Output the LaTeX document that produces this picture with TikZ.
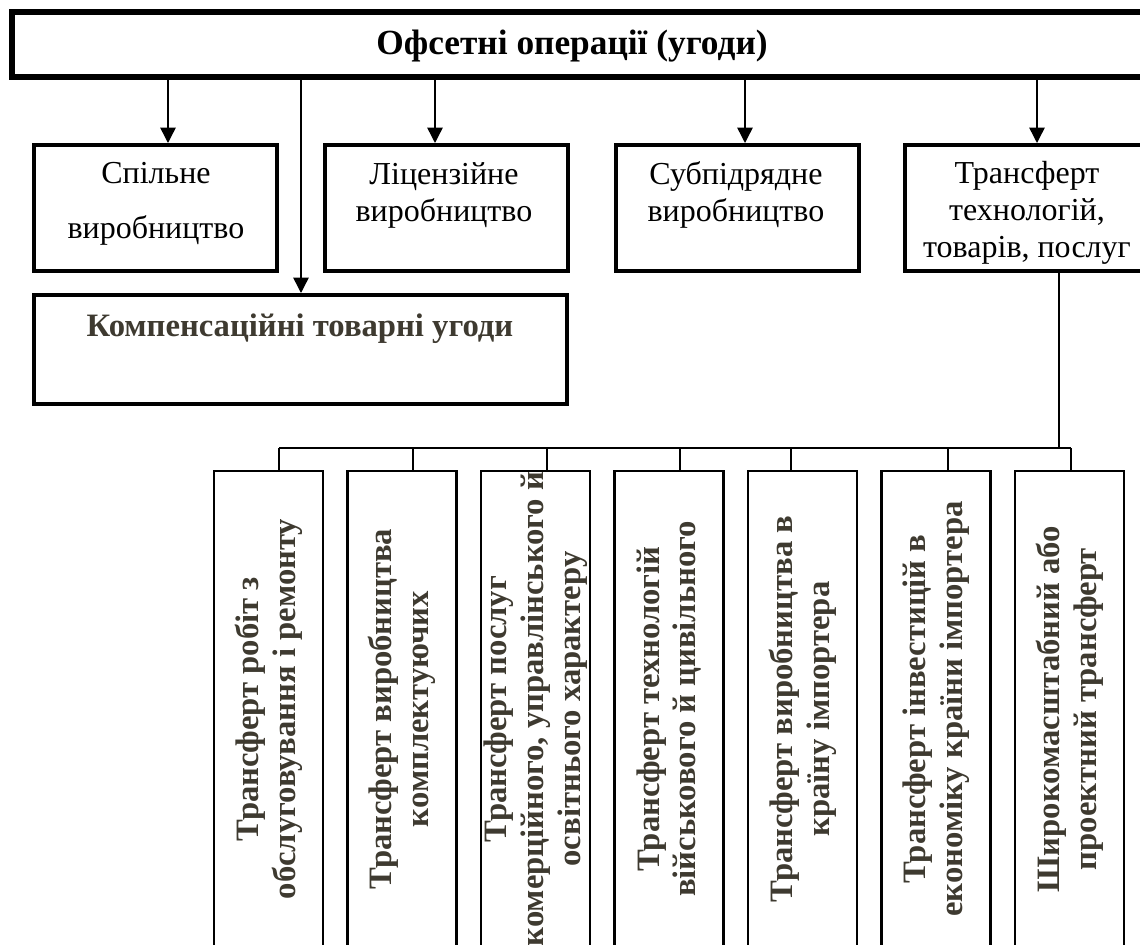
\documentclass[tikz,border=0pt]{standalone}
\usepackage{fontspec}
\setmainfont{Liberation Serif}
\usepackage{tikz}
\usetikzlibrary{positioning,calc,arrows.meta}

\definecolor{txtgray}{RGB}{62,58,48}

\tikzset{
  bar/.style={draw, line width=4.5pt, inner sep=0pt, minimum width=861pt, minimum height=48.75pt},
  box/.style={draw, line width=3pt, inner sep=0pt, minimum width=182.25pt, minimum height=94.5pt},
  vbox/.style={draw, line width=2.2pt, inner sep=0pt, rotate=90, align=center,
    minimum width=357pt, minimum height=81.75pt, text=txtgray,
    font=\fontsize{24.5}{27.75}\selectfont\bfseries},
  toptext/.style={align=center, inner sep=0pt, font=\fontsize{24}{27.75}\selectfont},
  link/.style={line width=1.1pt},
  arr/.style={link, -{Triangle[length=11.5pt,width=11.5pt]}}
}

\begin{document}
\begin{tikzpicture}[x=0.75pt,y=-0.75pt]
\useasboundingbox (0,0) rectangle (1140,945);

% main bar
\node[bar] (offset) at (586,44.5) {};
\node[inner sep=0pt, font=\fontsize{26.5}{30}\selectfont\bfseries] (title) at (572,46) {Офсетні операції (угоди)};

% second level
\node[box] (spil) at (155.5,208) {};
\node[box] (lic) at (446,208) {};
\node[box] (sub) at (737,208) {};
\node[box, minimum width=191.25pt] (tran) at (1032.5,208) {};
\node[box, minimum width=399.75pt, minimum height=81.75pt] (komp) at (300.5,349.5) {};

\node[toptext, font=\fontsize{24}{41}\selectfont] (spil-t) at (156,204) {Спільне\\виробництво};
\node[toptext] (lic-t) at (444,195) {Ліцензійне\\виробництво};
\node[toptext] (sub-t) at (736,195) {Субпідрядне\\виробництво};
\node[toptext] (tran-t) at (1027,213) {Трансферт\\технологій,\\товарів, послуг};
\node[toptext, text=txtgray, font=\fontsize{24.5}{27.75}\selectfont\bfseries] (komp-t) at (300,329) {Компенсаційні товарні угоди};

% arrows from the bar
\coordinate (a0) at (301,0);
\coordinate (a1) at (168,0);
\coordinate (a2) at (435,0);
\coordinate (a3) at (745,0);
\coordinate (a4) at (1037,0);
\draw[arr] (offset.south -| a1) -- (spil.north -| a1);
\draw[arr] (offset.south -| a2) -- (lic.north -| a2);
\draw[arr] (offset.south -| a3) -- (sub.north -| a3);
\draw[arr] (offset.south -| a4) -- (tran.north -| a4);
\draw[arr] (offset.south -| a0) -- (komp.north -| a0);

% transfer types
\coordinate (hub) at (1059,448);
\foreach \i/\t in {1/279,2/413,3/547,4/680,5/791,6/948,7/1071}
  \coordinate (t\i) at (\t,448);
\draw[link] (tran.south -| hub) -- (hub);
\draw[link] (t1) -- (t7);

\foreach \i/\txt in {
  1/{Трансферт робіт з\\обслуговування і ремонту},
  2/{Трансферт виробництва\\комплектуючих},
  3/{Трансферт послуг\\комерційного, управлінського й\\освітнього характеру},
  4/{Трансферт технологій\\військового й цивільного},
  5/{Трансферт виробництва в\\країну імпортера},
  6/{Трансферт інвестицій в\\економіку країни імпортера},
  7/{Широкомасштабний або\\проектний трансферт}}
{
  \node[vbox] (v\i) at ({268.5+133.5*(\i-1)},709) {\txt};
  \draw[link] (t\i) -- (v\i.east -| t\i);
}
\end{tikzpicture}
\end{document}
